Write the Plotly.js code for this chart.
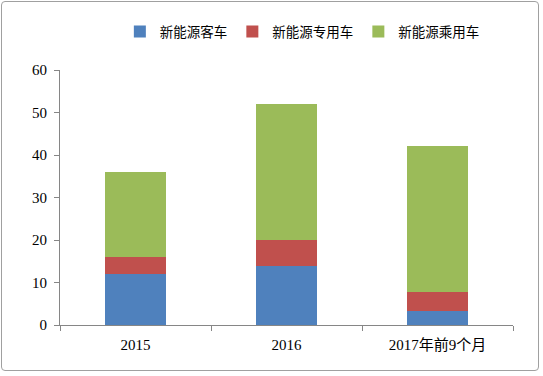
<!DOCTYPE html>
<html><head><meta charset="utf-8">
<script src="https://cdn.plot.ly/plotly-3.0.1.min.js"></script>
<style>
html,body{margin:0;padding:0;background:#fff;}
#wrap{position:relative;width:543px;height:376px;}
#frame{position:absolute;left:1px;top:1px;width:538px;height:370px;border:1px solid #a0a0a0;border-radius:4px;box-sizing:border-box;pointer-events:none;}
#chart{position:absolute;left:0;top:0;width:543px;height:376px;}
</style></head>
<body>
<div id="wrap"><div id="chart"></div><div id="frame"></div></div>
<script>
const categories = ['2015', '2016', '2017年前9个月'];
const seriesNames = ['新能源客车', '新能源专用车', '新能源乘用车'];
const bus = [12, 14, 3.3];
const special = [4, 6, 4.5];
const passenger = [20, 32, 34.3];
const colors = ['#4f81bd', '#c0504d', '#9bbb59'];
const yTicks = [0, 10, 20, 30, 40, 50, 60];

const fontFam = '"Liberation Serif", "Noto Sans CJK SC", serif';
const data = [bus, special, passenger].map((vals, i) => ({
  type: 'bar', x: categories, y: vals, name: seriesNames[i],
  marker: {color: colors[i], line: {width: 0}}, width: 0.4
}));

const layout = {
  width: 543, height: 376,
  margin: {l: 60, r: 30, t: 70, b: 51},
  barmode: 'stack',
  paper_bgcolor: '#fff', plot_bgcolor: '#fff',
  font: {family: fontFam, size: 15, color: '#000'},
  showlegend: true,
  legend: {orientation: 'h', x: 0.535, xanchor: 'center', y: 1.15, yanchor: 'middle',
    traceorder: 'normal', itemwidth: 30,
    font: {family: '"Noto Sans CJK SC", serif', size: 13.5, color: '#000'}},
  xaxis: {type: 'category', showline: true, linecolor: '#868686', linewidth: 1,
    ticks: 'outside', tickson: 'boundaries', ticklen: 5, tickcolor: '#868686',
    ticklabelstandoff: 6,
    showgrid: false, zeroline: false, tickfont: {family: fontFam, size: 15, color: '#000'}},
  yaxis: {range: [0, 60], tickvals: yTicks, ticktext: yTicks.map(String),
    showline: true, linecolor: '#868686', linewidth: 1, ticks: 'outside', ticklen: 5,
    tickcolor: '#868686', showgrid: false, zeroline: false, ticklabelstandoff: 4,
    tickfont: {family: fontFam, size: 15, color: '#000'}}
};
Plotly.newPlot('chart', data, layout, {displayModeBar: false, staticPlot: true});
</script>
</body></html>
